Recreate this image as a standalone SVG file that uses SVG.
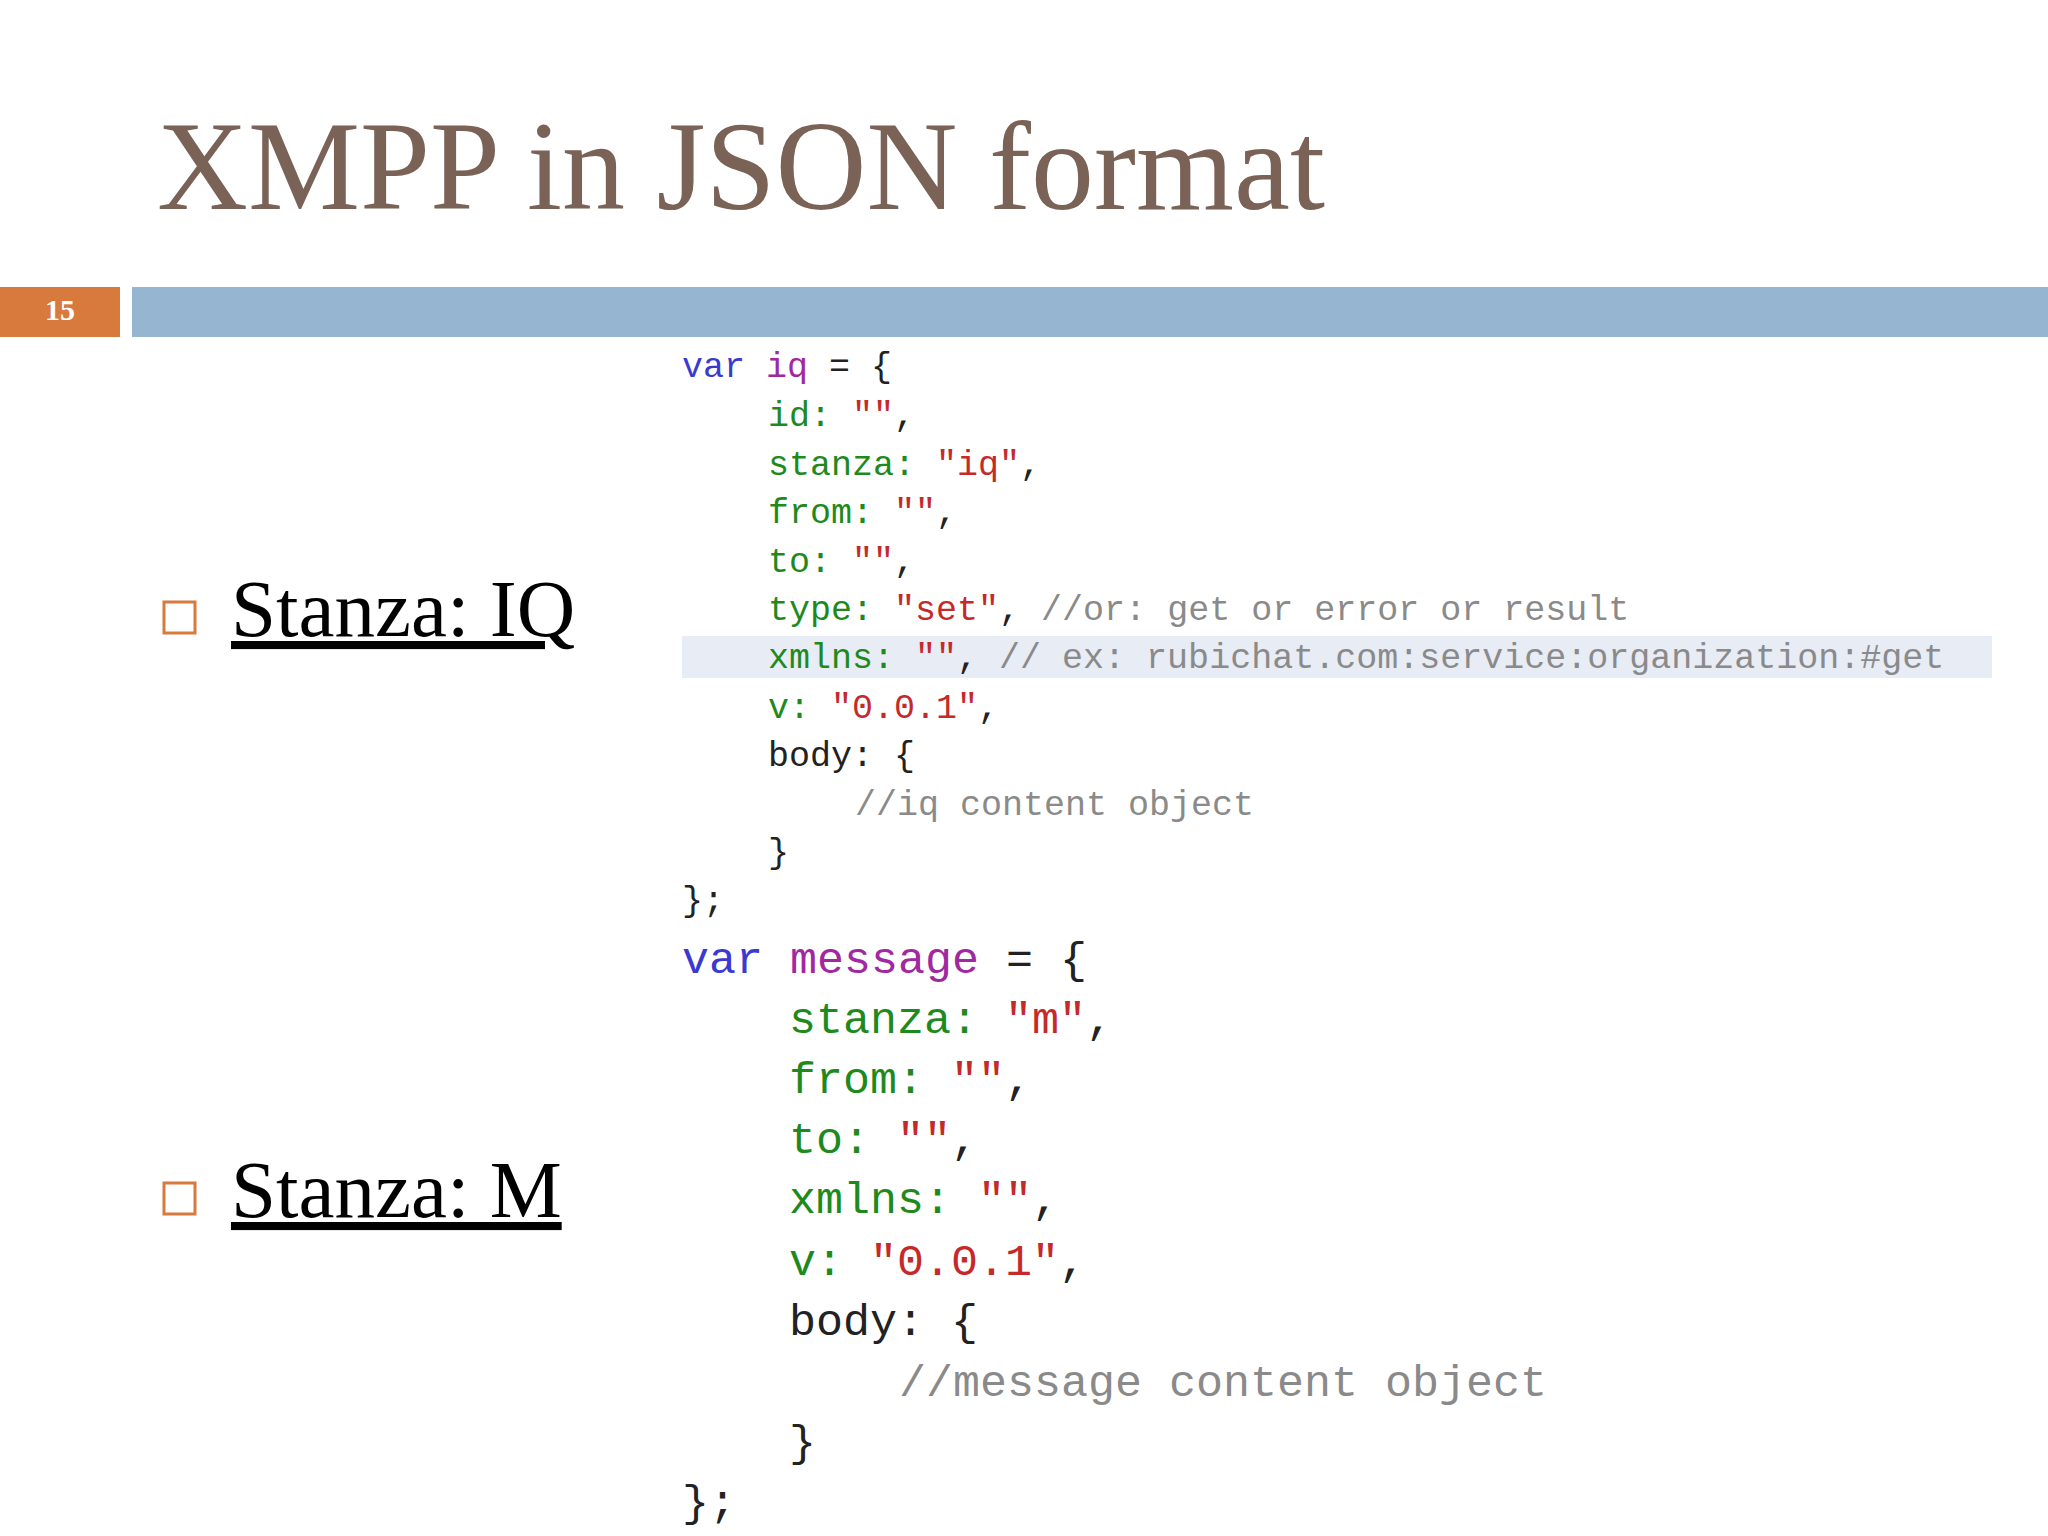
<svg xmlns="http://www.w3.org/2000/svg" width="2048" height="1536" viewBox="0 0 2048 1536">
<style>
.t{font-family:"Liberation Serif",serif}
.c1{font-family:"Liberation Mono",monospace;font-size:35px}
.c2{font-family:"Liberation Mono",monospace;font-size:45px}
.kw{fill:#3a3ad0}.vr{fill:#a028a0}.k{fill:#1e8a1e}.s{fill:#c42a2a}.cm{fill:#8a8a8a}.b{fill:#222}
</style>
<rect width="2048" height="1536" fill="#fff"/>
<g id="title"><text class="t" x="157" y="209" font-size="126" fill="#7a6256">XMPP in JSON format</text></g>
<g id="bar">
<rect x="0" y="287" width="120" height="50" fill="#d8793e"/>
<text class="t" x="60" y="320" font-size="30" font-weight="bold" fill="#fff" text-anchor="middle">15</text>
<rect x="132" y="287" width="1916" height="50" fill="#95b5d0"/>
</g>
<g id="bullet-iq">
<rect x="164" y="602" width="31" height="31" fill="none" stroke="#d8793e" stroke-width="3"/>
<text class="t" x="231" y="636" font-size="81" text-decoration="underline">Stanza: IQ</text>
</g>
<g id="bullet-m">
<rect x="164" y="1183" width="31" height="31" fill="none" stroke="#d8793e" stroke-width="3"/>
<text class="t" x="231" y="1217" font-size="81" text-decoration="underline">Stanza: M</text>
</g>
<g id="code-iq" class="c1">
<rect x="682" y="636" width="1310" height="42" fill="#e8ecf5"/>
<text x="682" y="377"><tspan class="kw">var</tspan> <tspan class="vr">iq</tspan><tspan class="b"> = {</tspan></text>
<text x="768" y="426"><tspan class="k">id:</tspan> <tspan class="s">""</tspan><tspan class="b">,</tspan></text>
<text x="768" y="475"><tspan class="k">stanza:</tspan> <tspan class="s">"iq"</tspan><tspan class="b">,</tspan></text>
<text x="768" y="523"><tspan class="k">from:</tspan> <tspan class="s">""</tspan><tspan class="b">,</tspan></text>
<text x="768" y="572"><tspan class="k">to:</tspan> <tspan class="s">""</tspan><tspan class="b">,</tspan></text>
<text x="768" y="620"><tspan class="k">type:</tspan> <tspan class="s">"set"</tspan><tspan class="b">,</tspan> <tspan class="cm">//or: get or error or result</tspan></text>
<text x="768" y="668"><tspan class="k">xmlns:</tspan> <tspan class="s">""</tspan><tspan class="b">,</tspan> <tspan class="cm">// ex: rubichat.com:service:organization:#get</tspan></text>
<text x="768" y="718"><tspan class="k">v:</tspan> <tspan class="s">"0.0.1"</tspan><tspan class="b">,</tspan></text>
<text x="768" y="766" class="b">body: {</text>
<text x="855" y="815" class="cm">//iq content object</text>
<text x="768" y="863" class="b">}</text>
<text x="682" y="911" class="b">};</text>
</g>
<g id="code-m" class="c2">
<text x="682" y="973"><tspan class="kw">var</tspan> <tspan class="vr">message</tspan><tspan class="b"> = {</tspan></text>
<text x="789" y="1033"><tspan class="k">stanza:</tspan> <tspan class="s">"m"</tspan><tspan class="b">,</tspan></text>
<text x="789" y="1093"><tspan class="k">from:</tspan> <tspan class="s">""</tspan><tspan class="b">,</tspan></text>
<text x="789" y="1153"><tspan class="k">to:</tspan> <tspan class="s">""</tspan><tspan class="b">,</tspan></text>
<text x="789" y="1213"><tspan class="k">xmlns:</tspan> <tspan class="s">""</tspan><tspan class="b">,</tspan></text>
<text x="789" y="1275"><tspan class="k">v:</tspan> <tspan class="s">"0.0.1"</tspan><tspan class="b">,</tspan></text>
<text x="789" y="1335" class="b">body: {</text>
<text x="899" y="1396" class="cm">//message content object</text>
<text x="789" y="1456" class="b">}</text>
<text x="682" y="1516" class="b">};</text>
</g>
</svg>
